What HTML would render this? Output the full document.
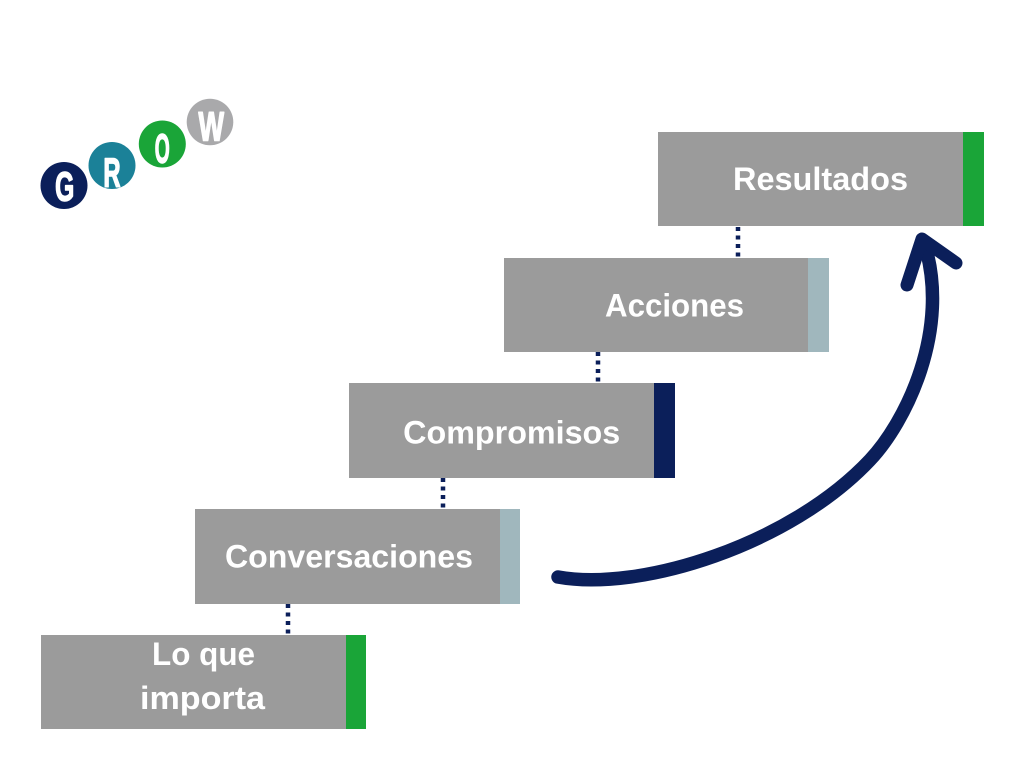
<!DOCTYPE html>
<html>
<head>
<meta charset="utf-8">
<style>
  html,body{margin:0;padding:0;background:#ffffff;}
  body{width:1024px;height:768px;overflow:hidden;}
  svg{display:block;}
  .lbl{font-family:"Liberation Sans",sans-serif;font-weight:bold;font-size:32px;fill:#ffffff;}
  .lg{font-family:"Liberation Sans",sans-serif;font-weight:bold;font-size:41px;fill:#ffffff;stroke:#ffffff;stroke-width:1.6;stroke-linejoin:round;}
</style>
</head>
<body>
<svg width="1024" height="768" viewBox="0 0 1024 768" xmlns="http://www.w3.org/2000/svg">
  <rect x="0" y="0" width="1024" height="768" fill="#ffffff"/>

  <!-- Logo -->
  <circle cx="64" cy="185.5" r="23.5" fill="#0b1f5a"/>
  <circle cx="112" cy="165.5" r="23.5" fill="#1b8198"/>
  <circle cx="162.3" cy="144" r="23.5" fill="#1aa538"/>
  <circle cx="210" cy="122" r="23.3" fill="#a9a9ab"/>
  <text class="lg" text-anchor="middle" transform="translate(64.7,200.5) scale(0.6,1)">G</text>
  <text class="lg" text-anchor="middle" transform="translate(112,186.5) scale(0.58,1)">R</text>
  <text class="lg" text-anchor="middle" transform="translate(162.2,162.5) scale(0.47,1)">O</text>
  <text class="lg" text-anchor="middle" transform="translate(211.3,140.5) scale(0.66,1)">W</text>

  <!-- dotted connectors -->
  <g stroke="#0b1f5a" stroke-width="4.5" stroke-dasharray="4 4.5" fill="none">
    <line x1="738" y1="227" x2="738" y2="258"/>
    <line x1="598" y1="352" x2="598" y2="383"/>
    <line x1="443" y1="478" x2="443" y2="509"/>
    <line x1="288" y1="604" x2="288" y2="635"/>
  </g>

  <!-- Boxes -->
  <rect x="658" y="132" width="305" height="94" fill="#9b9b9b"/>
  <rect x="963" y="132" width="21" height="94" fill="#1aa538"/>

  <rect x="504" y="258" width="304" height="94" fill="#9b9b9b"/>
  <rect x="808" y="258" width="21" height="94" fill="#a0b7bd"/>

  <rect x="349" y="383" width="305" height="95" fill="#9b9b9b"/>
  <rect x="654" y="383" width="21" height="95" fill="#0b1f5a"/>

  <rect x="195" y="509" width="305" height="95" fill="#9b9b9b"/>
  <rect x="500" y="509" width="20" height="95" fill="#a0b7bd"/>

  <rect x="41" y="635" width="305" height="94" fill="#9b9b9b"/>
  <rect x="346" y="635" width="20" height="94" fill="#1aa538"/>

  <!-- Labels -->
  <text class="lbl" x="820.5" y="190" text-anchor="middle" textLength="175" lengthAdjust="spacingAndGlyphs">Resultados</text>
  <text class="lbl" x="674.5" y="316.5" text-anchor="middle" textLength="139" lengthAdjust="spacingAndGlyphs">Acciones</text>
  <text class="lbl" x="511.7" y="443.3" text-anchor="middle" textLength="217" lengthAdjust="spacingAndGlyphs">Compromisos</text>
  <text class="lbl" x="349" y="567.7" text-anchor="middle" textLength="248" lengthAdjust="spacingAndGlyphs">Conversaciones</text>
  <text class="lbl" x="203.5" y="665" text-anchor="middle" textLength="103" lengthAdjust="spacingAndGlyphs">Lo que</text>
  <text class="lbl" x="202.5" y="709" text-anchor="middle" textLength="125" lengthAdjust="spacingAndGlyphs">importa</text>

  <!-- Curved arrow -->
  <path d="M558,577 C640,592 790,545 870,460 C905,423 952,330 924,242"
        fill="none" stroke="#0b1f5a" stroke-width="13.5" stroke-linecap="round" stroke-linejoin="round"/>
  <polyline points="907,285 922,239 956,263"
        fill="none" stroke="#0b1f5a" stroke-width="13" stroke-linecap="round" stroke-linejoin="round"/>
</svg>
</body>
</html>
